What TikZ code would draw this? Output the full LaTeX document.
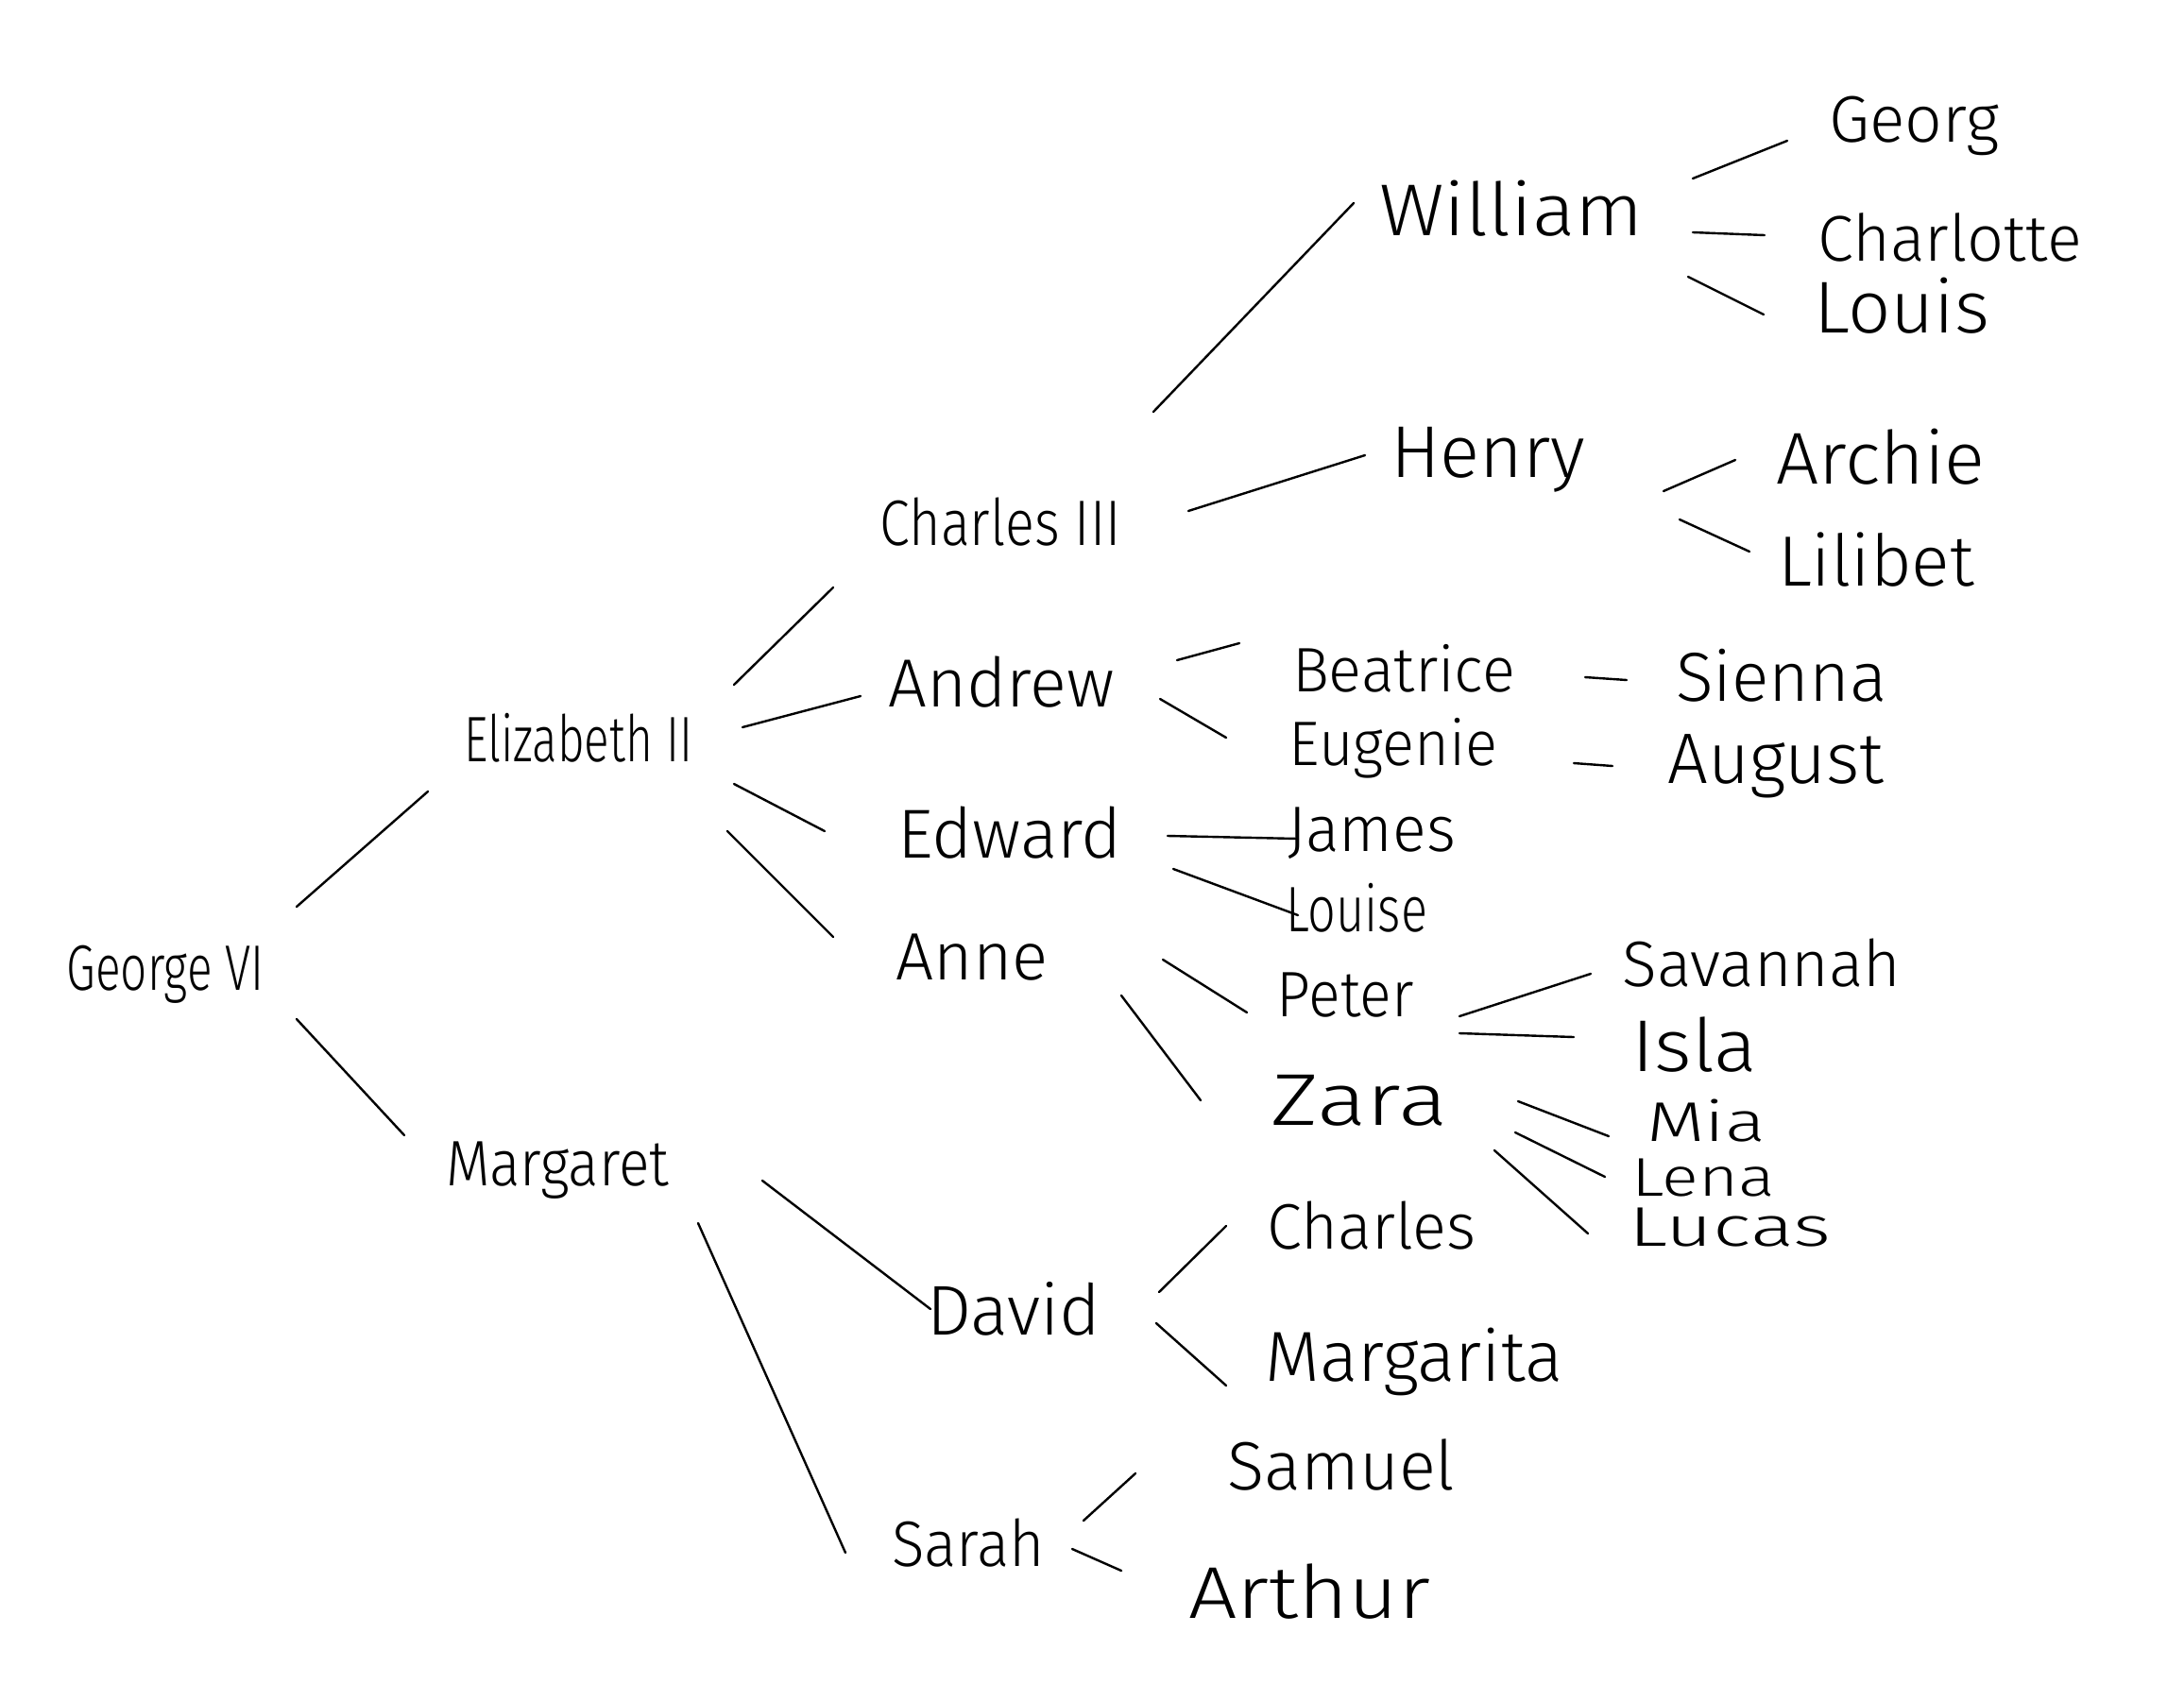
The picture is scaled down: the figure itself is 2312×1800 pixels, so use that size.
\documentclass[tikz,border=0pt]{standalone}
\usepackage{fontspec}
\usepackage{graphicx}
\setmainfont{Fira Sans Light}
\newsavebox\nmbox
\newcommand\fitname[3]{%
  \sbox\nmbox{#3}%
  \pgfmathsetmacro\hx{#2/\the\wd\nmbox}%
  \ifx\relax#1\relax\pgfmathsetmacro\vy{min(max(\hx,0.92),1.05)}\else\def\vy{#1}\fi
  \scalebox{\hx}[\vy]{\usebox\nmbox}}
\tikzset{
  nm/.style={inner sep=0pt, outer sep=0pt, anchor=center, text=black,
    font=\fontsize{74}{80}\selectfont},
  lnk/.style={draw=black, line width=2.4pt, line cap=round}
}
\newcommand\nm[5][]{\node[nm] (#2) at (#3) {\fitname{#1}{#4}{#5}};}
\newcommand\lnk[6]{\draw[lnk] ([shift={(#2,#3)}]#1.center) -- ([shift={(#5,#6)}]#4.center);}
\begin{document}
\begin{tikzpicture}[x=1pt,y=-1pt]
\useasboundingbox[fill=white] (0,0) rectangle (2312,1800);
% generation 1
\nm{george}{175,1032}{209}{George VI}
% generation 2
\nm{eliz}{612,781}{242}{Elizabeth II}
\nm{marg}{590,1239}{236}{Margaret}
% generation 3
\nm{chthree}{1059,553}{255}{Charles III}
\nm{andrew}{1060,722}{239}{Andrew}
\nm{edward}{1069,882}{237}{Edward}
\nm{anne}{1029,1014}{161}{Anne}
\nm{david}{1073,1386}{184}{David}
\nm{sarah}{1025,1634}{162}{Sarah}
% generation 4
\nm{william}{1600,221}{280}{William}
\nm{henry}{1575,487}{206}{Henry}
\nm[0.9]{beatrice}{1486,708}{236}{Beatrice}
\nm[0.9]{eugenie}{1475,792}{221}{Eugenie}
\nm{james}{1452,882}{178}{James}
\nm{louise}{1436,961}{150}{Louise}
\nm{peter}{1424,1054}{145}{Peter}
\nm{zara}{1439,1165}{187}{Zara}
\nm{charles}{1452,1298}{221}{Charles}
\nm{margarita}{1497,1442}{315}{Margarita}
\nm{samuel}{1420,1551}{241}{Samuel}
\nm{arthur}{1386,1685}{256}{Arthur}
% generation 5
\nm{georg}{2026,133}{180}{Georg}
\nm{charlotte}{2064,251}{280}{Charlotte}
\nm{louis}{2013,324}{186}{Louis}
\nm{archie}{1991,484}{221}{Archie}
\nm{lilibet}{1986,593}{208}{Lilibet}
\nm{sienna}{1886,715}{224}{Sienna}
\nm{august}{1880,811}{229}{August}
\nm{savannah}{1865,1020}{295}{Savannah}
\nm{isla}{1794,1106}{133}{Isla}
\nm[0.8]{mia}{1806,1187}{126}{Mia}
\nm[0.78]{lena}{1803,1247}{152}{Lena}
\nm[0.8]{lucas}{1831,1300}{214}{Lucas}
% connectors
\lnk{george}{139}{-72}{eliz}{-159}{57}
\lnk{george}{139}{47}{marg}{-162}{-37}
\lnk{eliz}{165}{-56}{chthree}{-177}{69}
\lnk{eliz}{174}{-11}{andrew}{-149}{15}
\lnk{eliz}{165}{49}{edward}{-196}{-2}
\lnk{eliz}{158}{99}{anne}{-147}{-22}
\lnk{chthree}{162}{-117}{william}{-167}{-6}
\lnk{chthree}{199}{-12}{henry}{-130}{-5}
\lnk{william}{192}{-32}{georg}{-134}{16}
\lnk{william}{192}{25}{charlotte}{-196}{-2}
\lnk{william}{187}{72}{louis}{-146}{9}
\lnk{henry}{186}{33}{archie}{-154}{3}
\lnk{henry}{203}{63}{lilibet}{-134}{-9}
\lnk{andrew}{186}{-23}{beatrice}{-174}{-27}
\lnk{andrew}{168}{18}{eugenie}{-177}{-11}
\lnk{beatrice}{192}{9}{sienna}{-164}{5}
\lnk{eugenie}{191}{16}{august}{-173}{0}
\lnk{edward}{167}{3}{james}{-78}{6}
\lnk{edward}{173}{38}{louise}{-62}{8}
\lnk{anne}{202}{2}{peter}{-104}{18}
\lnk{anne}{158}{40}{zara}{-168}{0}
\lnk{peter}{121}{22}{savannah}{-181}{11}
\lnk{peter}{121}{40}{isla}{-128}{-8}
\lnk{zara}{168}{1}{mia}{-103}{16}
\lnk{zara}{165}{34}{lena}{-104}{-1}
\lnk{zara}{143}{53}{lucas}{-150}{6}
\lnk{marg}{217}{11}{david}{-88}{0}
\lnk{marg}{149}{56}{sarah}{-130}{10}
\lnk{david}{154}{-18}{charles}{-154}{0}
\lnk{david}{151}{15}{margarita}{-199}{25}
\lnk{sarah}{122}{-24}{samuel}{-218}{9}
\lnk{sarah}{110}{6}{arthur}{-199}{-22}
\end{tikzpicture}
\end{document}
